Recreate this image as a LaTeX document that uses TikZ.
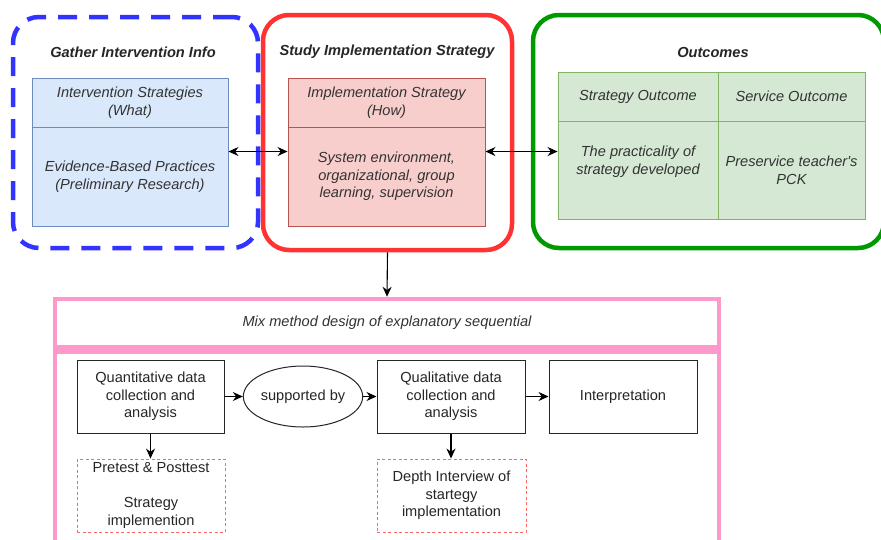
\documentclass[tikz,border=0pt]{standalone}
\usepackage{fontspec}
\setmainfont{Liberation Sans}
\usetikzlibrary{arrows.meta,calc,shapes.geometric}
\definecolor{bluebd}{HTML}{3333FF}
\definecolor{redbd}{HTML}{FF3333}
\definecolor{greenbd}{HTML}{009900}
\definecolor{pinkbd}{HTML}{FF99CC}
\definecolor{bfill}{HTML}{DAE8FC}
\definecolor{bline}{HTML}{6C8EBF}
\definecolor{rfill}{HTML}{F8CECC}
\definecolor{rline}{HTML}{B85450}
\definecolor{gfill}{HTML}{D5E8D4}
\definecolor{gline}{HTML}{82B366}
\definecolor{txt}{HTML}{333333}
\definecolor{dashred}{HTML}{FF6666}
\begin{document}
\begin{tikzpicture}[x=1pt,y=-1pt,
  every node/.style={font=\fontsize{14.6}{17.7}\selectfont, text=txt},
  cell/.style={draw, line width=0.9pt, inner sep=2pt, align=center, font=\fontsize{14.6}{17.7}\selectfont\itshape},
  bcell/.style={cell, draw=bline, fill=bfill},
  rcell/.style={cell, draw=rline, fill=rfill},
  gcell/.style={cell, draw=gline, fill=gfill},
  title/.style={font=\fontsize{14.6}{17.7}\selectfont\bfseries\itshape, text=black!85},
  procbox/.style={draw=black!85, line width=1pt, align=center, minimum width=147pt, minimum height=73pt, inner sep=2pt, text=black!85},
  notebox/.style={draw=dashred, dashed, dash pattern=on 3pt off 2.5pt, line width=0.9pt, align=center, minimum width=148pt, minimum height=73pt, inner sep=2pt, text=black!85},
  arr/.style={line width=1.1pt, draw=black, -{Stealth[length=10pt,width=9pt]}},
  darr/.style={line width=1.1pt, draw=black, {Stealth[length=10pt,width=9pt]}-{Stealth[length=10pt,width=9pt]}},
  outer/.style={draw, rounded corners=26pt, line width=4.5pt}
]
\clip (0,0) rectangle (881,539);
\fill[white] (0,0) rectangle (881,539);

% outer containers
\node[outer, draw=bluebd, dash pattern=on 19pt off 12pt, minimum width=245pt, minimum height=231pt] (bluebox) at (135.5,132.5) {};
\node[outer, draw=redbd, minimum width=249pt, minimum height=235pt] (redbox) at (387.5,132.5) {};
\node[outer, draw=greenbd, minimum width=351pt, minimum height=233pt] (greenbox) at (708.5,131.5) {};

% titles
\node[title] (t1) at (133,52) {Gather Intervention Info};
\node[title] (t2) at (387,52) {Study Implementation Strategy};
\node[title] (t3) at (713,52) {Outcomes};

% blue table
\node[bcell, minimum width=196pt, minimum height=49pt] (bluetop) at (130,102.5) {Intervention Strategies\\(What)};
\node[bcell, minimum width=196pt, minimum height=99pt] (bluebot) at (130,176.5) {Evidence-Based Practices\\(Preliminary Research)};

% red table
\node[rcell, minimum width=197pt, minimum height=49pt] (redtop) at (386.5,102.5) {Implementation Strategy\\(How)};
\node[rcell, minimum width=197pt, minimum height=99pt] (redbot) at (386.5,176.5) {System environment,\\organizational, group\\learning, supervision};

% green table
\node[gcell, minimum width=160pt, minimum height=49pt] (greenTL) at (638,96.5) {Strategy Outcome};
\node[gcell, minimum width=147pt, minimum height=49pt] (greenTR) at (791.5,96.5) {Service Outcome};
\node[gcell, minimum width=160pt, minimum height=98pt] (greenBL) at (638,170) {};
\node[gcell, minimum width=147pt, minimum height=98pt] (greenBR) at (791.5,170) {Preservice teacher\textquotesingle s\\PCK};
\node[align=center, font=\fontsize{14.6}{17.7}\selectfont\itshape] (greenBLtext) at (638,161.5) {The practicality of\\strategy developed};

% arrows between tables
\coordinate (bA) at ($(bluebot.north east)!.25!(bluebot.south east)$);
\coordinate (rA) at ($(redbot.north west)!.25!(redbot.south west)$);
\coordinate (rB) at ($(redbot.north east)!.25!(redbot.south east)$);
\draw[darr] (bA) -- (rA);
\draw[darr] (rB) -- (rB -| greenBL.west);

% pink mixed method container
\node[draw=pinkbd, line width=4.5pt, minimum width=664pt, minimum height=48pt, font=\fontsize{14.6}{17.7}\selectfont\itshape] (mixhead) at (387,323) {Mix method design of explanatory sequential};
\node[draw=pinkbd, line width=4.5pt, minimum width=664pt, minimum height=240pt, anchor=north] (mixbody) at (mixhead.south) {};

\draw[arr] (redbox.south) -- (mixhead.north);

% process
\node[procbox] (quant) at (150.5,396.5) {Quantitative data\\collection and\\analysis};
\node[draw=black!85, line width=1pt, ellipse, minimum width=110pt, minimum height=61pt, inner sep=0pt, text=black!85] (supp) at (303,396.5) {supported by};
\node[procbox, minimum width=148pt] (qual) at (451,396.5) {Qualitative data\\collection and\\analysis};
\node[procbox, minimum width=148pt] (interp) at (623,396.5) {Interpretation};

\node[notebox] (pre) at (151,495.5) {Pretest \& Posttest\\[17.7pt]Strategy\\implemention};
\node[notebox, minimum width=149pt] (depth) at (451.5,495.5) {Depth Interview of\\startegy\\implementation};

\draw[arr] (quant) -- (supp);
\draw[arr] (supp) -- (qual);
\draw[arr] (qual) -- (interp);
\draw[arr] (quant.south) -- (quant.south |- pre.north);
\draw[arr] (qual.south) -- (qual.south |- depth.north);
\end{tikzpicture}
\end{document}
